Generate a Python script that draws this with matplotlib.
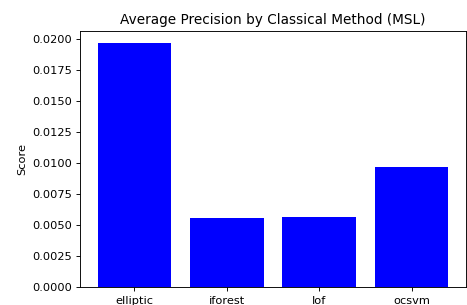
import matplotlib
matplotlib.use("Agg")
import matplotlib.pyplot as plt

methods = ["elliptic", "iforest", "lof", "ocsvm"]
scores = [0.01967, 0.00556, 0.00565, 0.00968]

DPI = 82
fig = plt.figure(figsize=(467/DPI, 305/DPI), dpi=DPI)
ax = fig.add_axes([80/467, (305-287)/305, 386/467, (287-31)/305])
ax.bar(methods, scores, color="blue")
ax.set_title("Average Precision by Classical Method (MSL)")
ax.set_ylabel("Score")
ax.set_yticks([0.0, 0.0025, 0.005, 0.0075, 0.01, 0.0125, 0.015, 0.0175, 0.02])
ax.set_yticklabels([f"{v:.4f}" for v in ax.get_yticks()])
ax.tick_params(axis="x", pad=4.0)
fig.savefig("out.png", dpi=DPI)
